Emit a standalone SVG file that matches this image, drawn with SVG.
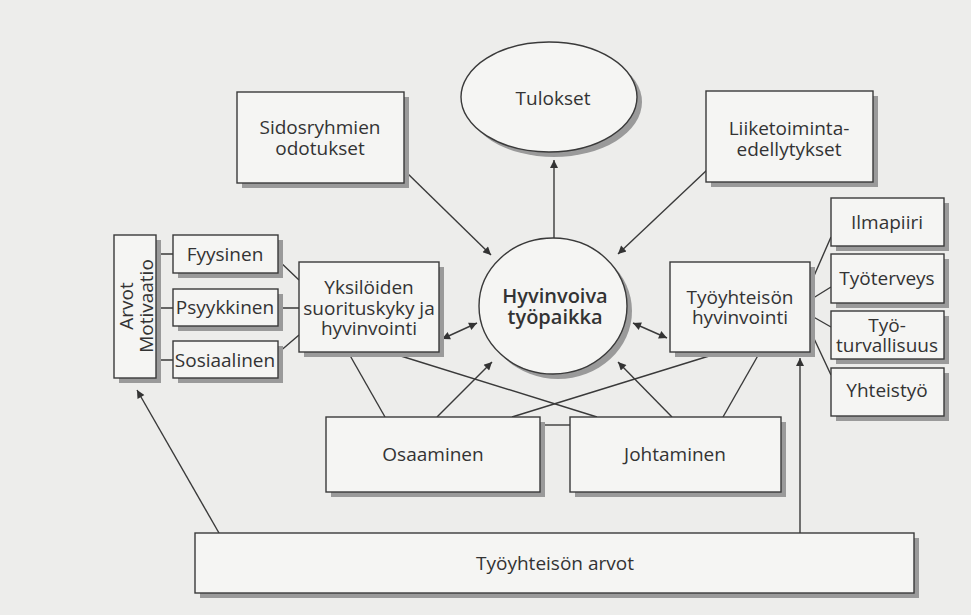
<svg xmlns="http://www.w3.org/2000/svg" width="971" height="615" viewBox="0 0 971 615">
<defs>
<marker id="ah" viewBox="0 0 10 10" refX="10" refY="5" markerWidth="11" markerHeight="8" markerUnits="userSpaceOnUse" orient="auto-start-reverse">
<path d="M0,0 L10,5 L0,10 z" fill="#333"/>
</marker>
</defs>
<style>
.box{fill:#f5f5f3;stroke:#3a3a3a;stroke-width:1.4}
.sh{fill:#9a9a9a}
.t{font-family:"Open Sans","Noto Sans",sans-serif;font-size:19px;fill:#333;text-anchor:middle}
.b{font-weight:600;font-size:20px}
.c{fill:none;stroke:#3a3a3a;stroke-width:1.4}
.a{marker-end:url(#ah)}
.d{marker-start:url(#ah);marker-end:url(#ah)}
</style>
<rect width="971" height="615" fill="#ededeb"/>

<g id="connectors">
<path class="c a" d="M405,171 L491,255"/>
<path class="c a" d="M707,170 L618,254"/>
<path class="c a" d="M554,238 L554,160"/>
<path class="c d" d="M442,339 L477,323"/>
<path class="c d" d="M633,323 L667,338"/>
<path class="c a" d="M437,417 L492,362"/>
<path class="c a" d="M672,417 L618,362"/>
<path class="c" d="M348,352 L385,417"/>
<path class="c" d="M388,352 L597,417"/>
<path class="c" d="M512,417 L722,352"/>
<path class="c" d="M723,417 L760,352"/>
<path class="c" d="M540,425 L570,425"/>
<path class="c a" d="M800,533 L800,358"/>
<path class="c a" d="M219,533 L137,390"/>
<path class="c" d="M156,254 H173 M156,308 H173 M156,360 H173"/>
<path class="c" d="M278,260 L299,280 M278,308 L299,308 M278,353 L299,335"/>
<path class="c" d="M810,285 L831,237 M810,300 L831,287 M810,315 L831,327 M810,330 L831,375"/>
</g>

<g id="tulokset">
<ellipse class="sh" cx="554" cy="102" rx="88" ry="55"/>
<ellipse class="box" cx="549" cy="97" rx="88" ry="55"/>
<text class="t" x="553" y="105">Tulokset</text>
</g>

<g id="sidosryhmien">
<rect class="sh" x="242" y="97" width="167" height="91"/>
<rect class="box" x="237" y="92" width="167" height="91"/>
<text class="t" x="320" y="134">Sidosryhmien</text>
<text class="t" x="320" y="155">odotukset</text>
</g>

<g id="liiketoiminta">
<rect class="sh" x="711" y="96" width="167" height="91"/>
<rect class="box" x="706" y="91" width="167" height="91"/>
<text class="t" x="789" y="135">Liiketoiminta-</text>
<text class="t" x="789" y="156">edellytykset</text>
</g>

<g id="hyvinvoiva">
<ellipse class="sh" cx="558" cy="311" rx="74" ry="68"/>
<ellipse class="box" cx="553" cy="306" rx="74" ry="68"/>
<text class="t b" x="555" y="303">Hyvinvoiva</text>
<text class="t b" x="555" y="324">työpaikka</text>
</g>

<g id="arvot">
<rect class="sh" x="119" y="240" width="42" height="143"/>
<rect class="box" x="114" y="235" width="42" height="143"/>
<text class="t" transform="translate(133,306) rotate(-90)">Arvot</text>
<text class="t" transform="translate(153,306) rotate(-90)">Motivaatio</text>
</g>

<g id="fyysinen">
<rect class="sh" x="178" y="240" width="105" height="38"/>
<rect class="box" x="173" y="235" width="105" height="38"/>
<text class="t" x="225" y="261">Fyysinen</text>
</g>

<g id="psyykkinen">
<rect class="sh" x="178" y="294" width="105" height="37"/>
<rect class="box" x="173" y="289" width="105" height="37"/>
<text class="t" x="225" y="314">Psyykkinen</text>
</g>

<g id="sosiaalinen">
<rect class="sh" x="178" y="346" width="105" height="37"/>
<rect class="box" x="173" y="341" width="105" height="37"/>
<text class="t" x="225" y="367">Sosiaalinen</text>
</g>

<g id="yksiloiden">
<rect class="sh" x="304" y="267" width="140" height="90"/>
<rect class="box" x="299" y="262" width="140" height="90"/>
<text class="t" x="369" y="294">Yksilöiden</text>
<text class="t" x="369" y="315">suorituskyky ja</text>
<text class="t" x="369" y="335">hyvinvointi</text>
</g>

<g id="tyoyhteison-hyvinvointi">
<rect class="sh" x="675" y="267" width="140" height="90"/>
<rect class="box" x="670" y="262" width="140" height="90"/>
<text class="t" x="740" y="304">Työyhteisön</text>
<text class="t" x="740" y="324">hyvinvointi</text>
</g>

<g id="ilmapiiri">
<rect class="sh" x="836" y="203" width="113" height="48"/>
<rect class="box" x="831" y="198" width="113" height="48"/>
<text class="t" x="887" y="229">Ilmapiiri</text>
</g>

<g id="tyoterveys">
<rect class="sh" x="836" y="259" width="113" height="49"/>
<rect class="box" x="831" y="254" width="113" height="49"/>
<text class="t" x="887" y="285">Työterveys</text>
</g>

<g id="tyoturvallisuus">
<rect class="sh" x="836" y="316" width="113" height="48"/>
<rect class="box" x="831" y="311" width="113" height="48"/>
<text class="t" x="887" y="332">Työ-</text>
<text class="t" x="887" y="352">turvallisuus</text>
</g>

<g id="yhteistyo">
<rect class="sh" x="836" y="373" width="113" height="48"/>
<rect class="box" x="831" y="368" width="113" height="48"/>
<text class="t" x="887" y="397">Yhteistyö</text>
</g>

<g id="osaaminen">
<rect class="sh" x="331" y="422" width="214" height="75"/>
<rect class="box" x="326" y="417" width="214" height="75"/>
<text class="t" x="433" y="461">Osaaminen</text>
</g>

<g id="johtaminen">
<rect class="sh" x="575" y="422" width="211" height="75"/>
<rect class="box" x="570" y="417" width="211" height="75"/>
<text class="t" x="675" y="461">Johtaminen</text>
</g>

<g id="tyoyhteison-arvot">
<rect class="sh" x="200" y="538" width="719" height="60"/>
<rect class="box" x="195" y="533" width="719" height="60"/>
<text class="t" x="555" y="570">Työyhteisön arvot</text>
</g>
</svg>
